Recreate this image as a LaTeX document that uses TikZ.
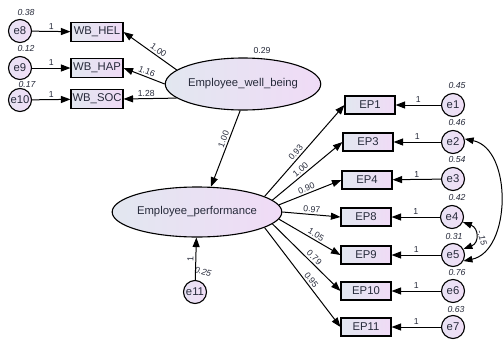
\documentclass[tikz,border=0pt]{standalone}
\usepackage{fontspec}
\setmainfont{Liberation Sans}
\usetikzlibrary{arrows.meta,shapes.geometric,calc}

\definecolor{fillL}{RGB}{226,231,240}
\definecolor{fillR}{RGB}{240,219,246}
\definecolor{errL}{RGB}{232,226,244}
\definecolor{errR}{RGB}{240,222,246}
\definecolor{numcol}{RGB}{38,42,58}

\begin{document}
\begin{tikzpicture}[x=1pt,y=-1pt,
  every node/.style={inner sep=0pt},
  obs/.style={draw, line width=1.1pt, rectangle, minimum width=50pt, minimum height=18pt,
    left color=fillL, right color=fillR, text=numcol, font=\fontsize{11.3}{13}\selectfont},
  lat/.style={draw, line width=1.1pt, ellipse, left color=fillL, right color=fillR,
    text=numcol, font=\fontsize{11.3}{13}\selectfont},
  err/.style={draw, line width=1.1pt, circle, minimum size=23pt, left color=errL, right color=errR,
    text=numcol, font=\fontsize{11.3}{13}\selectfont},
  regpath/.style={line width=1pt, -{Triangle[length=9.5pt,width=7pt]}},
  covpath/.style={line width=1pt, {Triangle[length=9pt,width=6.5pt]}-{Triangle[length=9pt,width=6.5pt]}},
  coef/.style={font=\fontsize{8.7}{10}\selectfont, text=numcol, sloped, above, inner sep=1.8pt},
  varlab/.style={font=\fontsize{8.7}{10}\selectfont\itshape, text=numcol},
]
\useasboundingbox (0,0) rectangle (503,343);

% Employee well-being block
\node[err] (e8)  at (20,31)  {e8};
\node[err] (e9)  at (20,68)  {e9};
\node[err] (e10) at (20,100) {e10};
\node[obs, minimum width=52pt, minimum height=19pt] (hel) at (97,32) {WB\_HEL};
\node[obs, minimum width=52pt, minimum height=19pt] (hap) at (97,68) {WB\_HAP};
\node[obs, minimum width=52pt, minimum height=19pt] (soc) at (97,99) {WB\_SOC};
\node[lat, minimum width=128pt, minimum height=52pt] (wb) at (243,84) {Employee\_well\_being};

\node[varlab] (v8)  at ($(e8)+(6,-18)$)  {0.38};
\node[varlab] (v9)  at ($(e9)+(6,-19)$)  {0.12};
\node[varlab] (v10) at ($(e10)+(7,-15)$) {0.17};
\node[font=\fontsize{8.7}{10}\selectfont, text=numcol] (vwb) at ($(wb)+(19,-33)$) {0.29};

\draw[regpath] (e8)  -- node[coef] {1} (hel);
\draw[regpath] (e9)  -- node[coef] {1} (hap);
\draw[regpath] (e10) -- node[coef] {1} (soc);

\draw[regpath] (wb.168) -- node[coef, pos=.4] {1.00} (hel.east);
\draw[regpath] (wb.180) -- node[coef, pos=.48] {1.16} (hap.east);
\draw[regpath] (wb.192) -- node[coef, pos=.57] {1.28} (soc.east);

% Employee performance block
\node[lat, minimum width=140pt, minimum height=50pt] (perf) at (197,212) {Employee\_performance};
\node[err] (e11) at (195,292) {e11};
\node[varlab, rotate=-15] (v11) at ($(e11)+(8,-20)$) {0.25};

\draw[regpath] (wb.-96) -- node[coef, pos=.4] {1.00} (perf.61);
\draw[regpath] (e11) -- node[coef, pos=.5] {1} (perf);

\node[obs] (ep1)  at (370,105) {EP1};
\node[obs] (ep3)  at (368,142) {EP3};
\node[obs] (ep4)  at (367,180) {EP4};
\node[obs] (ep8)  at (366,217) {EP8};
\node[obs] (ep9)  at (366,255) {EP9};
\node[obs] (ep10) at (366,291) {EP10};
\node[obs] (ep11) at (366,327) {EP11};

\node[err] (e1) at (453,105) {e1};
\node[err] (e2) at (453,142) {e2};
\node[err] (e3) at (453,179) {e3};
\node[err] (e4) at (452,217) {e4};
\node[err] (e5) at (453,255) {e5};
\node[err] (e6) at (453,291) {e6};
\node[err] (e7) at (453,327) {e7};

\node[varlab] (v1) at ($(e1)+(4,-19)$) {0.45};
\node[varlab] (v2) at ($(e2)+(4,-19)$) {0.46};
\node[varlab] (v3) at ($(e3)+(4,-19)$) {0.54};
\node[varlab] (v4) at ($(e4)+(5,-19)$) {0.42};
\node[varlab] (v5) at ($(e5)+(1,-18)$) {0.31};
\node[varlab] (v6) at ($(e6)+(4,-18)$) {0.76};
\node[varlab] (v7) at ($(e7)+(3,-18)$) {0.63};

% loadings
\draw[regpath] (perf.13) -- node[coef, pos=.44] {0.93} (ep1.west);
\draw[regpath] (perf.9)  -- node[coef, pos=.45] {1.00} (ep3.west);
\draw[regpath] (perf.5)  -- node[coef, pos=.47] {0.90} (ep4.west);
\draw[regpath] (perf.0)  -- node[coef, pos=.5]  {0.97} (ep8.west);
\draw[regpath] (perf.-5) -- node[coef, pos=.56] {1.05} (ep9.west);
\draw[regpath] (perf.-9) -- node[coef, pos=.56] {0.79} (ep10.west);
\draw[regpath] (perf.-13) -- node[coef, pos=.56] {0.95} (ep11.west);

% measurement errors
\draw[regpath] (e1) -- node[coef] {1} (ep1);
\draw[regpath] (e2) -- node[coef] {1} (ep3);
\draw[regpath] (e3) -- node[coef] {1} (ep4);
\draw[regpath] (e4) -- node[coef] {1} (ep8);
\draw[regpath] (e5) -- node[coef] {1} (ep9);
\draw[regpath] (e6) -- node[coef] {1} (ep10);
\draw[regpath] (e7) -- node[coef] {1} (ep11);

% error covariances
\draw[covpath] (e2.15) .. controls ($(e2.15)+(48,10)$) and ($(e5.-30)+(48,-10)$) .. (e5.-30);
\draw[covpath] (e4.-25) .. controls ($(e4.-25)+(16,6)$) and ($(e5.30)+(16,-6)$) .. (e5.30);
\node[font=\fontsize{8.7}{10}\selectfont\itshape, text=numcol, rotate=-72] (c45) at (482,238) {-.15};

\end{tikzpicture}
\end{document}
